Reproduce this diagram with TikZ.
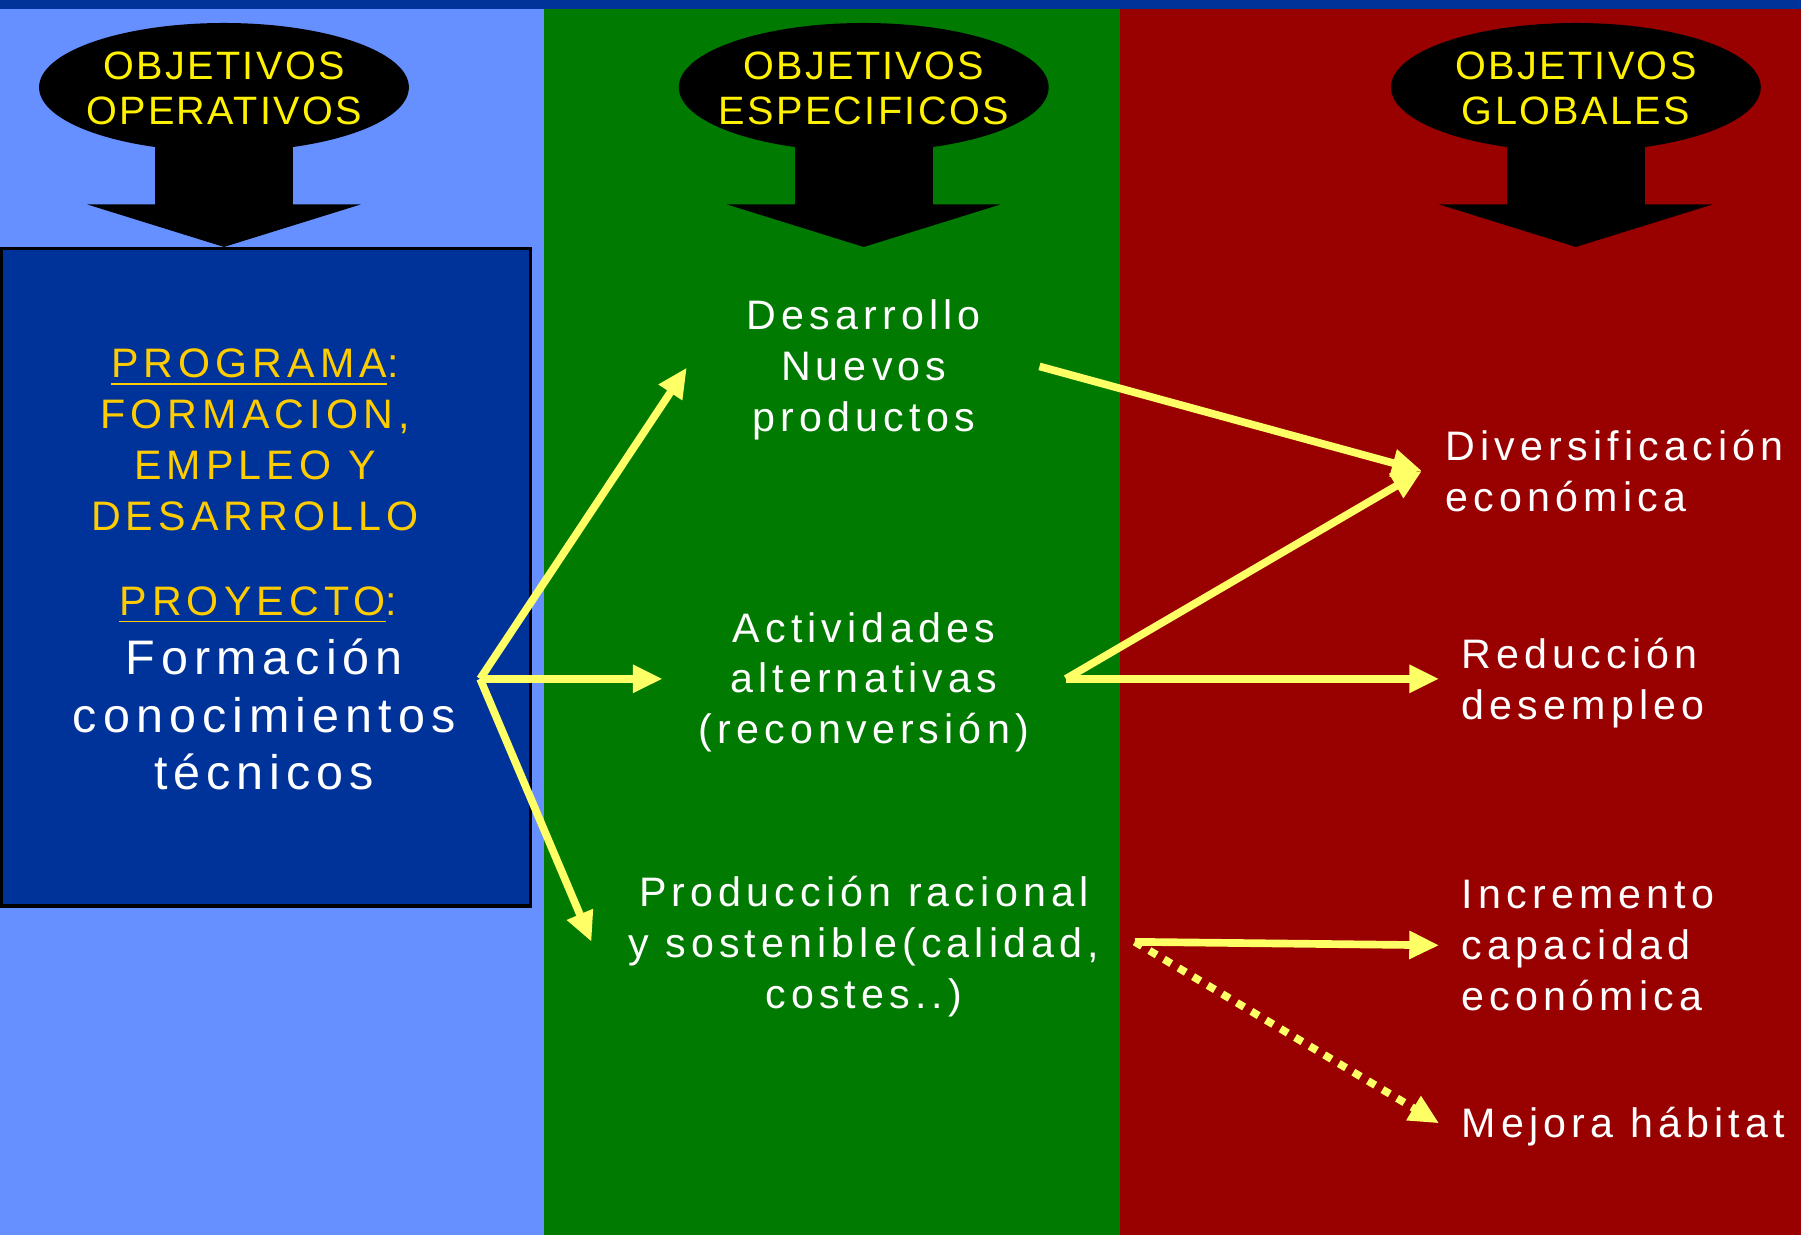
\documentclass[tikz,border=0pt]{standalone}
\usepackage{fontspec}
\setmainfont[LetterSpace=12.5]{Liberation Sans}
\newfontfamily\ovalfont[LetterSpace=6]{Liberation Sans}
\usetikzlibrary{arrows.meta}

\definecolor{topblue}{RGB}{0,51,153}
\definecolor{skyblue}{RGB}{102,144,255}
\definecolor{leafgreen}{RGB}{0,122,0}
\definecolor{darkred}{RGB}{153,0,0}
\definecolor{gold}{RGB}{255,204,0}
\definecolor{arrowyellow}{RGB}{255,255,102}

\tikzset{
  oval/.style={inner sep=0pt, align=center, text=yellow, font=\ovalfont\fontsize{9.8}{11.1}\selectfont},
  note/.style={inner sep=0pt, align=center, text=white, font=\fontsize{10.2}{12.6}\selectfont},
  goldtext/.style={note, text=gold},
  goal/.style={note, align=left, anchor=west},
  flow/.style={draw=arrowyellow, line width=1.9pt, -{Triangle[length=0.26cm,width=0.23cm]}},
  maybeflow/.style={flow, dash pattern=on 2.1pt off 2.1pt}
}

\begin{document}
\begin{tikzpicture}[x=0.01cm, y=-0.01cm]
  \useasboundingbox (0,0) rectangle (1568,1075);

  % Columns
  \fill[topblue] (0,0) rectangle (1568,8);
  \fill[skyblue] (0,8) rectangle (474,1075);
  \fill[leafgreen] (474,8) rectangle (975,1075);
  \fill[darkred] (975,8) rectangle (1568,1075);

  % Block arrows under the headers
  \foreach \cx in {195,752,1372} {
    \fill[black] (\cx,76) ellipse [x radius=161, y radius=56];
    \fill[black] (\cx-60,110) rectangle (\cx+60,179);
    \fill[black] (\cx-119,178) -- (\cx+119,178) -- (\cx,215) -- cycle;
  }

  % Headers
  \node[oval] (opera) at (195,77) {OBJETIVOS\\OPERATIVOS};
  \node[oval] (espec) at (752,77) {OBJETIVOS\\ESPECIFICOS};
  \node[oval] (globa) at (1372,77) {OBJETIVOS\\GLOBALES};

  % Programme box
  \node[draw=black, line width=0.8pt, fill=topblue, minimum width=4.6cm,
    minimum height=5.72cm, anchor=north west] (prog) at (0,215) {};
  \node[goldtext] (progname) at (222,383) {\underline{PROGRAMA}:\\FORMACION,\\EMPLEO Y\\DESARROLLO};
  \node[goldtext] (proyname) at (225,527) {\underline{PROYECTO}:};
  \node[note, font=\fontsize{12}{14.2}\selectfont] (form) at (230,622)
    {Formación\\conocimientos\\técnicos};

  % Specific objectives
  \node[note] (desa) at (752,322) {Desarrollo\\Nuevos\\productos};
  \node[note] (acti) at (752,594) {Actividades\\alternativas\\(reconversión)};
  \node[note] (prod) at (752,824) {Producción racional\\y sostenible(calidad,\\costes..)};

  % Global objectives
  \node[goal] (dive) at (1258,410) {Diversificación\\económica};
  \node[goal] (redu) at (1272,595) {Reducción\\desempleo};
  \node[goal] (incr) at (1272,823) {Incremento\\capacidad\\económica};
  \node[goal] (mejo) at (1272,981) {Mejora hábitat};

  % Arrow ends
  \coordinate (hub) at (418,591);
  \coordinate (desaIn) at (598,320);
  \coordinate (actiIn) at (577,591);
  \coordinate (prodIn) at (515,820);
  \coordinate (desaOut) at (905,319);
  \coordinate (actiOut) at (928,591);
  \coordinate (prodOut) at (988,820);
  \coordinate (diveIn) at (1238,410);
  \coordinate (reduIn) at (1253,591);
  \coordinate (incrIn) at (1253,823);
  \coordinate (mejoIn) at (1253,978);

  \draw[flow] (hub) -- (desaIn);
  \draw[flow] (hub) -- (actiIn);
  \draw[flow] (hub) -- (prodIn);
  \draw[flow] (desaOut) -- (diveIn);
  \draw[flow] (actiOut) -- (diveIn);
  \draw[flow] (actiOut) -- (reduIn);
  \draw[flow] (prodOut) -- (incrIn);
  \draw[maybeflow] (prodOut) -- (mejoIn);
\end{tikzpicture}
\end{document}
